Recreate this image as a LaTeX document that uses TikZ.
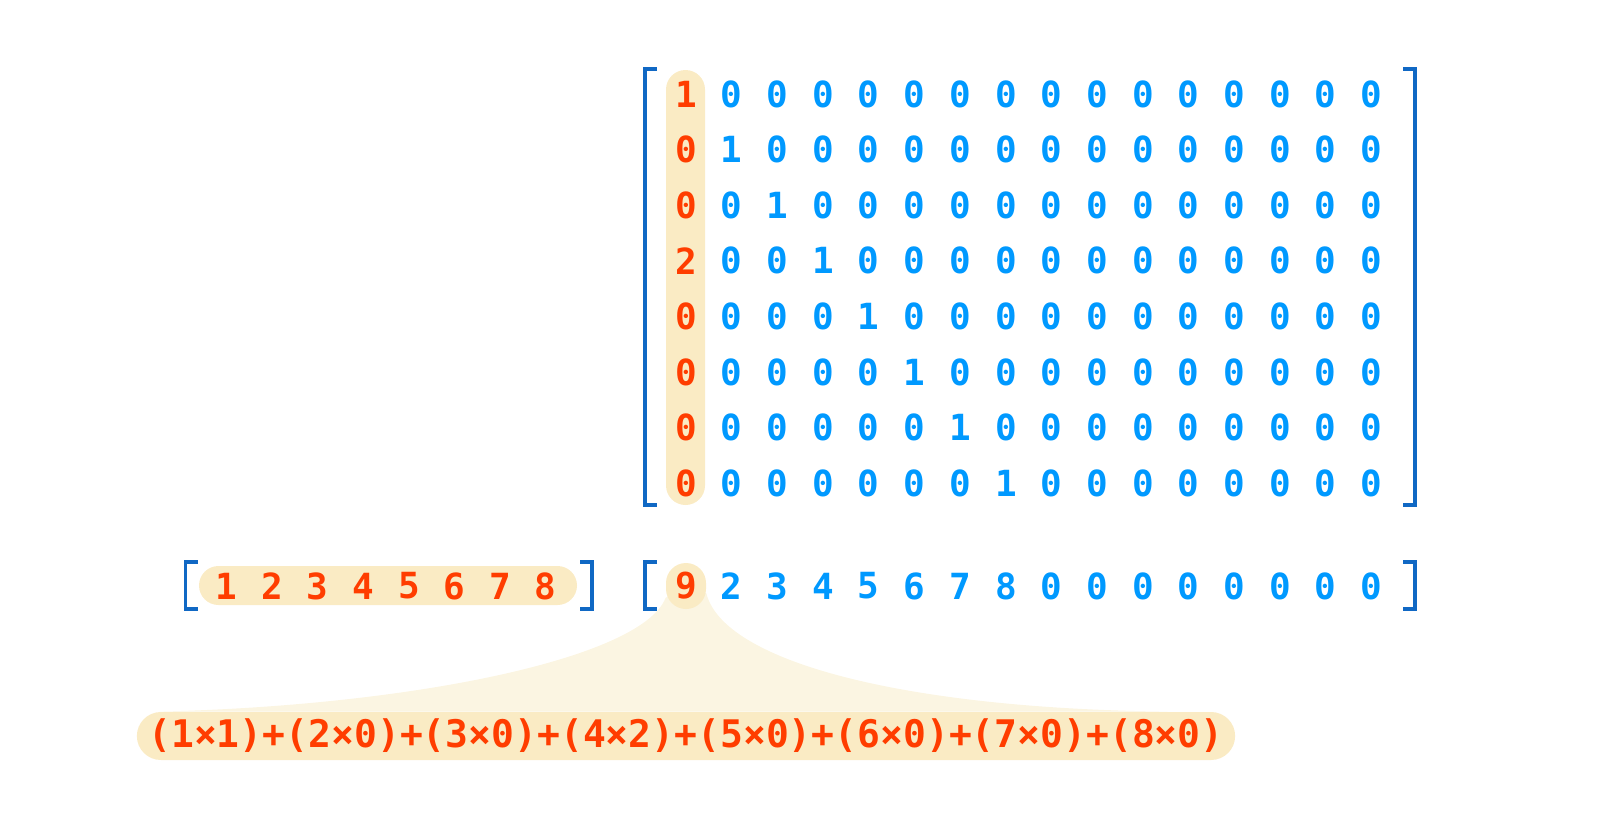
\documentclass[tikz,border=0pt]{standalone}
\usepackage{fontspec}
\setmonofont{DejaVu Sans Mono}
\usepackage{tikz}
\usetikzlibrary{calc}
\usetikzlibrary{positioning}
\usetikzlibrary{backgrounds}

\definecolor{numred}{RGB}{255,61,0}
\definecolor{numblue}{RGB}{0,153,255}
\definecolor{brackblue}{RGB}{16,104,196}
\definecolor{hilite}{RGB}{250,235,196}
\definecolor{funnel}{RGB}{251,245,226}

\begin{document}
\begin{tikzpicture}[x=0.5pt, y=-0.5pt,
		entry/.style={inner sep=0pt, font=\ttfamily\bfseries\fontsize{18}{18}\selectfont, text=numblue},
		pick/.style={entry, text=numred},
		brack/.style={draw=brackblue, line width=1.6pt, line join=miter},
		pill/.style={fill=hilite, rounded corners=9.75pt}]
				\useasboundingbox (0,0) rectangle (1600,835);
				
				\fill[pill] (666,70) rectangle (705,505);
				\fill[pill] (199,566) rectangle (577,605);
				
				\foreach \r/\lead in {0/1,1/0,2/0,3/2,4/0,5/0,6/0,7/0} {
					\node[pick] (m-\r-0) at (686, 93.9+\r*55.6) {\lead};
					\foreach \c in {1,...,15} {
						\pgfmathtruncatemacro\val{(\c==\r)?1:0}
						\node[entry] (m-\r-\c) at (686+\c*45.7, 93.9+\r*55.6) {\val};
					}
				}
				
				\foreach \v [count=\k] in {1,2,3,4,5,6,7,8}
					\node[pick] (a-\k) at (226.5+\k*45.6-45.6, 586) {\v};
				
				\node[pick, fill=hilite, rounded corners=10pt, minimum width=20pt, minimum height=23pt] (p-0) at (686,586) {9};
				\foreach \v [count=\k] in {2,3,4,5,6,7,8,0,0,0,0,0,0,0,0}
					\node[entry] (p-\k) at (686+\k*45.7, 586) {\v};
				
				\node[pick, font=\ttfamily\bfseries\fontsize{19}{19}\selectfont, fill=hilite, rounded corners=12pt, minimum height=24pt, inner xsep=5.75pt] (sum) at (686,736) {(1×1)+(2×0)+(3×0)+(4×2)+(5×0)+(6×0)+(7×0)+(8×0)};
				
				\begin{pgfonlayer}{background}
					\fill[funnel] (p-0.center) -- (p-0.210) .. controls +(-23,60) and +(255,-6) .. ([xshift=11.5pt]sum.north west)
						-- ([xshift=-34pt]sum.north east) .. controls +(-265,-3) and +(17,68) .. (p-0.340) -- cycle;
				\end{pgfonlayer}
				
				\draw[brack] (657,69) -- (645,69) -- (645,505) -- (657,505);
				\draw[brack] (1403,69) -- (1415,69) -- (1415,505) -- (1403,505);
				\draw[brack] (197.7,562) -- (185.7,562) -- (185.7,609) -- (197.7,609);
				\draw[brack] (580,562) -- (592,562) -- (592,609) -- (580,609);
				\draw[brack] (657,562) -- (645,562) -- (645,609) -- (657,609);
				\draw[brack] (1403,562) -- (1415,562) -- (1415,609) -- (1403,609);
			\end{tikzpicture}
\end{document}
